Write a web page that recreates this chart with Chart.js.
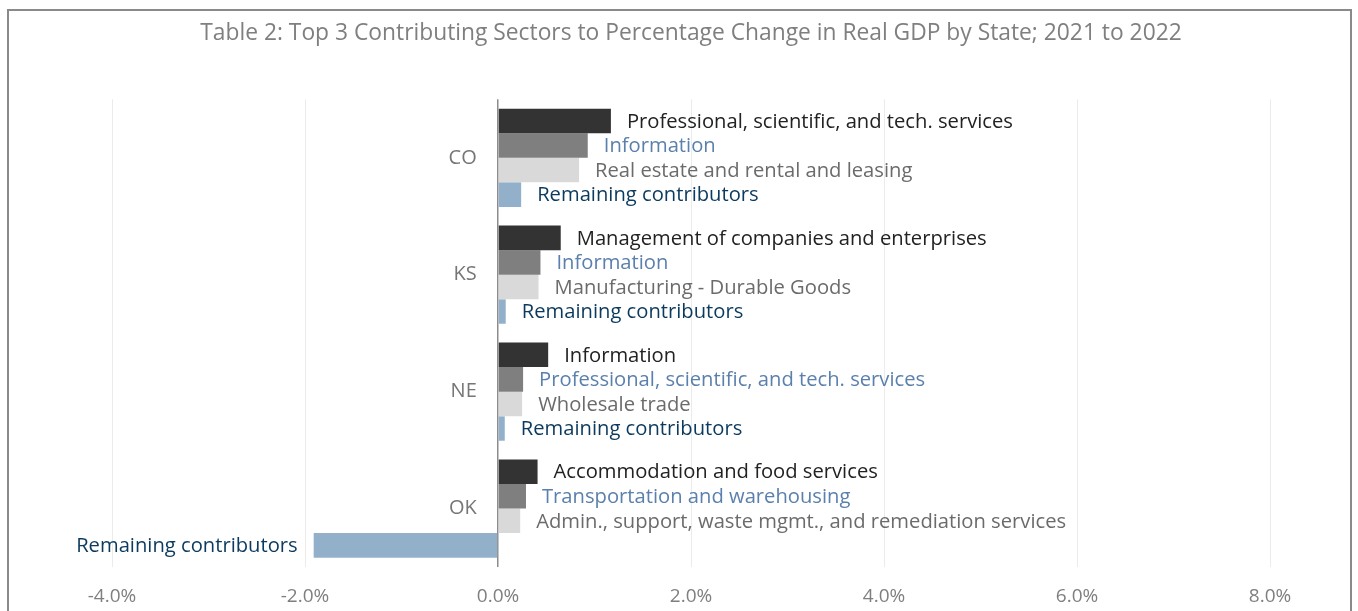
<!DOCTYPE html>
<html>
<head>
<meta charset="utf-8">
<script src="https://cdn.jsdelivr.net/npm/chart.js@4"></script>
<style>
  html, body { margin: 0; padding: 0; background: #fff; }
  #wrap { position: relative; width: 1358px; height: 611px; overflow: hidden; }
  #frame { position: absolute; left: 7px; top: 9px; width: 1341px; height: 700px;
           border: 2px solid #8a8a8a; }
  #myChart { position: absolute; left: 0; top: 0; }
</style>
</head>
<body>
<div id="wrap">
  <div id="frame"></div>
  <canvas id="myChart" width="1358" height="611"></canvas>
</div>
<script>
const states = ["CO", "KS", "NE", "OK"];
const first = [1.17, 0.65, 0.52, 0.41];
const second = [0.93, 0.44, 0.26, 0.29];
const third = [0.84, 0.42, 0.25, 0.23];
const remaining = [0.24, 0.08, 0.07, -1.91];

const firstSector = ["Professional, scientific, and tech. services", "Management of companies and enterprises", "Information", "Accommodation and food services"];
const secondSector = ["Information", "Information", "Professional, scientific, and tech. services", "Transportation and warehousing"];
const thirdSector = ["Real estate and rental and leasing", "Manufacturing - Durable Goods", "Wholesale trade", "Admin., support, waste mgmt., and remediation services"];
const remainingSector = ["Remaining contributors", "Remaining contributors", "Remaining contributors", "Remaining contributors"];

const sectorNames = [firstSector, secondSector, thirdSector, remainingSector];
const labelColors = ["#222222", "#5b80ad", "#6b6b6b", "#0b3a5e"];

const barLabels = {
  id: "barLabels",
  afterDatasetsDraw(chart) {
    const ctx = chart.ctx;
    ctx.save();
    ctx.font = "20.2px 'Open Sans'";
    ctx.textBaseline = "middle";
    chart.data.datasets.forEach((ds, i) => {
      const meta = chart.getDatasetMeta(i);
      meta.data.forEach((bar, j) => {
        const v = ds.data[j];
        ctx.fillStyle = labelColors[i];
        if (v >= 0) {
          ctx.textAlign = "left";
          ctx.fillText(sectorNames[i][j], bar.x + 16, bar.y + 1);
        } else {
          ctx.textAlign = "right";
          ctx.fillText(sectorNames[i][j], bar.x - 16, bar.y + 1);
        }
      });
    });
    ctx.restore();
  },
};

const data = {
  labels: states,
  datasets: [
    { label: "1st", data: first, backgroundColor: "#333333" },
    { label: "2nd", data: second, backgroundColor: "#7f7f7f" },
    { label: "3rd", data: third, backgroundColor: "#d9d9d9" },
    { label: "Remaining", data: remaining, backgroundColor: "#93b0cb" },
  ],
};

const config = {
  type: "bar",
  data,
  options: {
    indexAxis: "y",
    responsive: false,
    animation: false,
    categoryPercentage: 0.84,
    barPercentage: 1.0,
    layout: { padding: { left: 112, right: 88, top: 0, bottom: 0 } },
    scales: {
      x: {
        min: -4,
        max: 8,
        afterFit: (scale) => { scale.height = 44; },
        ticks: {
          stepSize: 2,
          padding: 18,
          color: "#7f7f7f",
          font: { family: "'Open Sans'", size: 19 },
          callback: (v) => v.toFixed(1) + "%",
        },
        grid: {
          drawTicks: false,
          color: (c) => (c.tick && c.tick.value === 0 ? "#8c8c8c" : "#ebebeb"),
          lineWidth: (c) => (c.tick && c.tick.value === 0 ? 1.5 : 1),
        },
        border: { display: false },
      },
      y: {
        // state labels sit just left of the zero line
        position: { x: -0.22 },
        ticks: {
          color: "#767676",
          font: { family: "'Open Sans'", size: 20 },
        },
        grid: { display: false, drawTicks: false },
        border: { display: false },
      },
    },
    plugins: {
      legend: { display: false },
      tooltip: { enabled: false },
      title: {
        display: true,
        text: "Table 2: Top 3 Contributing Sectors to Percentage Change in Real GDP by State; 2021 to 2022",
        color: "#7f7f7f",
        font: { family: "'Open Sans'", size: 22.8, weight: "normal" },
        padding: { top: 20, bottom: 52 },
      },
    },
  },
  plugins: [barLabels],
};

var myChart = new Chart(document.getElementById("myChart"), config);
</script>
</body>
</html>
